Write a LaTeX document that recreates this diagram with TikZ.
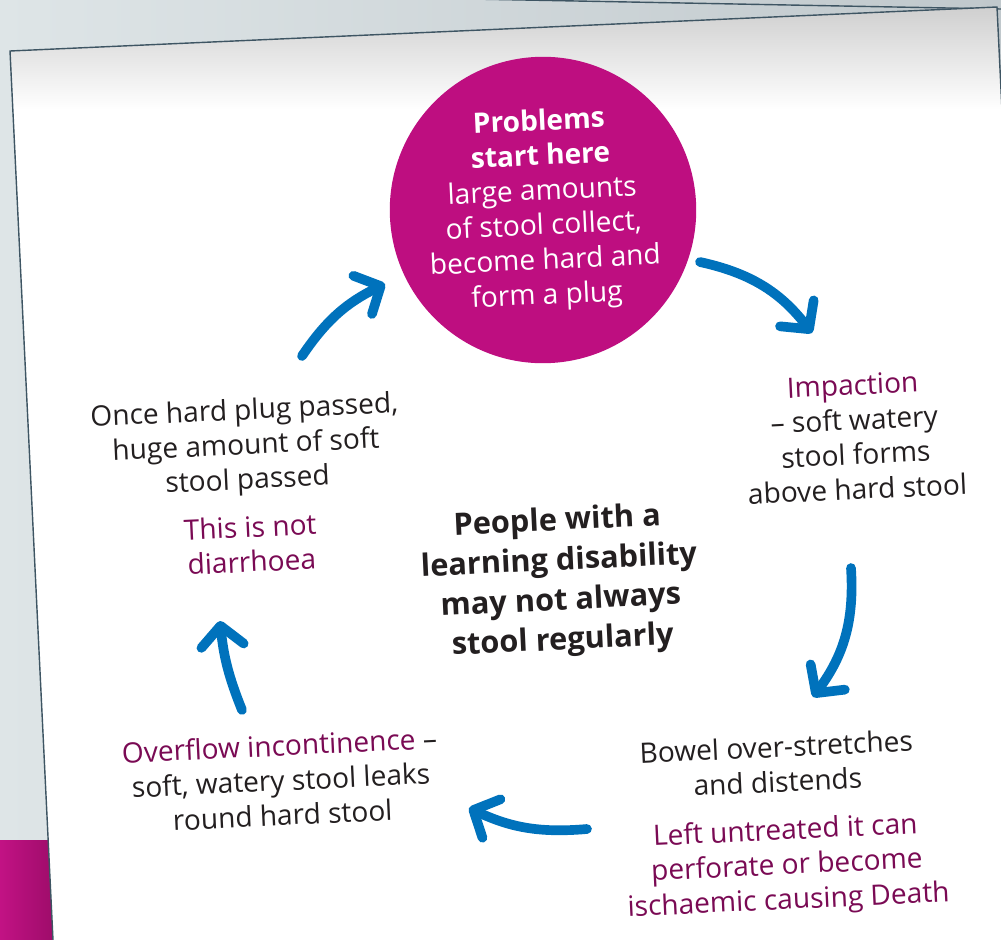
\documentclass[tikz,border=0pt]{standalone}
\usepackage{fontspec}
\setmainfont{Open Sans}
\usetikzlibrary{arrows.meta}

\definecolor{mag}{RGB}{190,14,128}
\definecolor{plum}{RGB}{122,10,84}
\definecolor{flowblue}{RGB}{0,114,188}
\definecolor{ink}{RGB}{35,31,32}
\definecolor{slate}{RGB}{62,85,99}

\tikzset{
  txt/.style={font=\fontsize{16}{19.8}\selectfont, text=ink, align=center, rotate=2.7, inner sep=0pt},
  big/.style={txt, font=\bfseries\fontsize{17.5}{22.7}\selectfont},
  hub/.style={circle, fill=mag, text=white, minimum size=6cm, inner sep=0pt, align=center, rotate=2.7, font=\fontsize{16}{19.8}\selectfont},
  flow/.style={draw=flowblue, line width=5.5pt, line cap=round, -{Straight Barb[round, length=4mm, width=8.5mm]}},
}

\begin{document}
\begin{tikzpicture}[x=0.02cm, y=-0.02cm]
\useasboundingbox (0,0) rectangle (1001,940);
% backdrop
\shade[left color={rgb,255:red,222;green,229;blue,231}, right color={rgb,255:red,192;green,200;blue,204}] (0,0) rectangle (1001,940);
\draw[slate, line width=0.8pt] (470,-1) -- (1001,9);
\shade[left color={rgb,255:red,194;green,18;blue,132}, right color={rgb,255:red,158;green,12;blue,106}] (0,840) -- (49,840) -- (54,940) -- (0,940) -- cycle;
% the page
\fill[white] (10,51) -- (997,7) -- (1042,940) -- (53,940) -- cycle;
\begin{scope}
\clip (10,51) -- (997,7) -- (1042,940) -- (53,940) -- cycle;
\shade[top color=black!20, bottom color=white] (0,0) rectangle (1001,110);
\end{scope}
\draw[slate, line width=0.8pt] (53,940) -- (10,51) -- (997,7) -- (1042,940);

\node[hub] (start) at (543,210) {\textbf{Problems}\\\textbf{start here}\\large amounts\\of stool collect,\\become hard and\\form a plug};
\node[txt] (impact) at (855,437) {\textcolor{plum}{Impaction}\\– soft watery\\stool forms\\above hard stool};
\node[txt] (bowel) at (777,764) {Bowel over-stretches\\and distends};
\node[txt, text=plum] (untreated) at (787,867) {Left untreated it can\\perforate or become\\ischaemic causing Death};
\node[txt] (overflow) at (281,780) {\textcolor{plum}{Overflow incontinence} –\\soft, watery stool leaks\\round hard stool};
\node[txt] (plug) at (246,447) {Once hard plug passed,\\huge amount of soft\\stool passed};
\node[txt, text=plum] (notdia) at (251,544) {This is not\\diarrhoea};
\node[big] (people) at (560,582) {People with a\\learning disability\\may not always\\stool regularly};

\coordinate (a1s) at (302,356);
\coordinate (a1e) at (385,284);
\coordinate (a2s) at (700,262);
\coordinate (a2e) at (812,333);
\coordinate (a3s) at (851,568);
\coordinate (a3e) at (813,697);
\coordinate (a4s) at (587,829);
\coordinate (a4e) at (469,808);
\coordinate (a5s) at (242,710);
\coordinate (a5e) at (220,621);
\draw[flow] (a1s) to[bend left=15] (a1e);
\draw[flow] (a2s) to[bend left=20] (a2e);
\draw[flow] (a3s) to[bend left=20] (a3e);
\draw[flow] (a4s) to[bend left=15] (a4e);
\draw[flow] (a5s) to[bend left=8] (a5e);
\end{tikzpicture}
\end{document}
